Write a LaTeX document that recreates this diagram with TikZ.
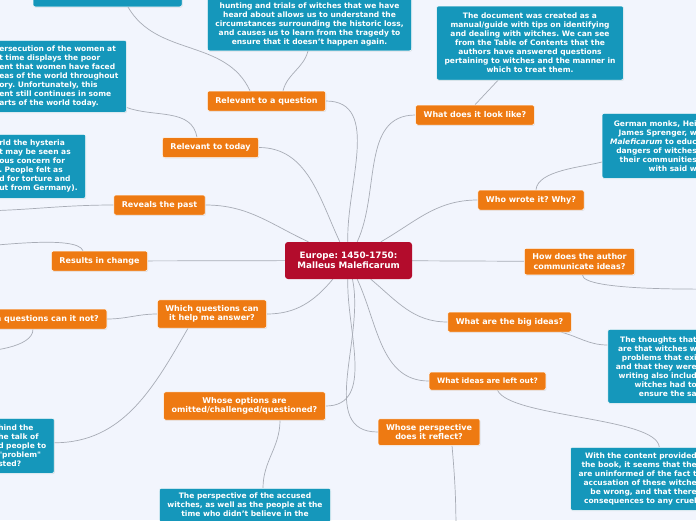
\documentclass[tikz,border=0pt]{standalone}
\usepackage{fontspec}
\setmainfont{DejaVu Sans}
\usepackage{tikz}
\usetikzlibrary{positioning,shadows}

\definecolor{paperblue}{HTML}{F2F5FD}
\definecolor{hubred}{HTML}{B30C2C}
\definecolor{topicorange}{HTML}{EE7A12}
\definecolor{noteteal}{HTML}{1597BB}
\definecolor{linkgray}{HTML}{A8ACB6}

\pgfdeclarelayer{paper}
\pgfdeclarelayer{links}
\pgfsetlayers{paper,links,main}

\begin{document}
\frenchspacing
\begin{tikzpicture}[
    x=1pt, y=1pt,
    hub/.style={fill=hubred, rounded corners=3pt, text=white, align=center,
        minimum width=127pt, minimum height=37pt,
        font=\fontsize{8.8}{10.5}\selectfont\bfseries},
    topic/.style={fill=topicorange, draw=white, line width=0.5pt, rounded corners=2pt,
        text=white, align=center, inner xsep=8pt, inner ysep=5.5pt, minimum height=20pt,
        font=\fontsize{8}{9.3}\selectfont\bfseries,
        drop shadow={shadow xshift=0.6pt, shadow yshift=-0.8pt, opacity=0.2}},
    note/.style={fill=noteteal, draw=white, line width=0.5pt, rounded corners=2pt,
        text=white, align=center, inner xsep=8pt, inner ysep=5pt,
        font=\fontsize{7.5}{9}\selectfont\bfseries,
        drop shadow={shadow xshift=0.6pt, shadow yshift=-0.8pt, opacity=0.2}},
    link/.style={draw=linkgray, line width=0.7pt}
]
\useasboundingbox (0,0) rectangle (696,-520);
\begin{pgfonlayer}{paper}
\fill[paperblue] (0,0) rectangle (696,-520);
\end{pgfonlayer}

% ---- Centre ----
\node[hub] (hub) at (348.5,-260.5) {Europe: 1450-1750:\\Malleus Maleficarum};

% ---- Topics ----
\node[topic] (rq) at (266.5,-101) {Relevant to a question};
\node[topic] (rt) at (210.5,-147.5) {Relevant to today};
\node[topic] (rp) at (159.5,-205) {Reveals the past};
\node[topic] (rc) at (99.5,-261) {Results in change};
\node[topic] (wq) at (212,-314) {Which questions can\\it help me answer?};
\node[topic, anchor=east] (wn) at (107,-319) {h questions can it not?};
\node[topic] (wo) at (244.5,-406) {Whose options are\\omitted/challenged/questioned?};
\node[topic] (wp) at (429,-432) {Whose perspective\\does it reflect?};
\node[topic, minimum height=18pt, font=\fontsize{7.4}{9}\selectfont\bfseries]
    (wi) at (487.5,-381) {What ideas are left out?};
\node[topic] (wb) at (509.5,-322) {What are the big ideas?};
\node[topic] (ha) at (579.5,-261.5) {How does the author\\communicate ideas?};
\node[topic] (ww) at (531,-200) {Who wrote it? Why?};
\node[topic] (wl) at (475,-115) {What does it look like?};

% ---- Notes ----
\node[note, anchor=south, minimum width=149pt, minimum height=30pt] (tl) at (107.5,-7) {};
\node[note, anchor=south] (tq) at (309.5,-51)
    {hunting and trials of witches that we have\\heard about allows us to understand the\\circumstances surrounding the historic loss,\\and causes us to learn from the tragedy to\\ensure that it doesn't happen again.};
\node[note, minimum height=74pt] (tr) at (530,-43)
    {The document was created as a\\manual/guide with tips on identifying\\and dealing with witches. We can see\\from the Table of Contents that the\\authors have answered questions\\pertaining to witches and the manner in\\which to treat them.};
\node[note, align=left, anchor=north west, minimum height=72pt] (tp) at (-9,-40)
    {ersecution of the women at\\t time displays the poor\\ent that women have faced\\eas of the world throughout\\ory. Unfortunately, this\\ent still continues in some\\arts of the world today.};
\node[note, align=left, anchor=north west, minimum height=64pt] (th) at (-9,-134)
    {rld the hysteria\\t may be seen as\\ous concern for\\. People felt as\\d for torture and\\ut from Germany).};
\node[note, align=left, anchor=north west, minimum height=55pt] (tbl) at (-10,-418)
    {hind the\\he talk of\\d people to\\\textquotedbl problem\textquotedbl\\sted?};
\node[note, anchor=north] (tbs) at (245,-488)
    {The perspective of the accused\\witches, as well as the people at the\\time who didn't believe in the};
\node[note, align=right, anchor=north east, minimum height=65pt] (tg) at (705,-113)
    {German monks, Hei\\James Sprenger, w\\\textit{Maleficarum} to educ\\dangers of witches\\their communities\\with said w};
\node[note, align=right, anchor=north east, minimum height=74pt] (tt) at (705,-329)
    {The thoughts that\\are that witches w\\problems that exi\\and that they were\\writing also includ\\witches had to\\ensure the sa};
\node[note, align=right, anchor=north east, minimum height=63pt] (tc) at (705,-447)
    {With the content provided\\the book, it seems that the\\are uninformed of the fact t\\accusation of these witche\\be wrong, and that there\\consequences to any cruel};

% loose ends
\coordinate (rpend) at (-30,-211);
\coordinate (rcend) at (-30,-247);
\coordinate (wnend) at (-30,-352);
\coordinate (wpend) at (456,-535);
\coordinate (haend) at (720,-289);

\begin{pgfonlayer}{links}
% Centre to topics
\draw[link] (hub) to[out=92, in=0] (rq.east);
\draw[link] (hub) to[out=115, in=0] (rt.east);
\draw[link] (hub) to[out=155, in=0] (rp.east);
\draw[link] (hub) -- (rc);
\draw[link] (hub) to[out=-130, in=0] (wq.east);
\draw[link] (hub) to[out=-92, in=0] (wo.east);
\draw[link] (hub) to[out=-78, in=180] (wp.west);
\draw[link] (hub) to[out=-65, in=180] (wi.west);
\draw[link] (hub) to[out=-40, in=180] (wb.west);
\draw[link] (hub) -- (ha);
\draw[link] (hub) to[out=30, in=180] (ww.west);
\draw[link] (hub) to[out=65, in=180] (wl.west);

% Topics to notes
\draw[link] ([xshift=-16.5pt]rq.north) to[out=115, in=-60] ([xshift=20.5pt]tl.south);
\draw[link] ([xshift=16.5pt]rq.north) to[out=75, in=-105] ([xshift=-1.5pt]tq.south);
\draw[link] ([xshift=-13.5pt]rt.north) to[out=100, in=-20] ([yshift=5pt]tp.south east);
\draw[link] (rp.west) to[out=180, in=0] (rpend);
\draw[link] ([xshift=-16.5pt]rc.north) to[out=110, in=0, looseness=0.4] (rcend);
\draw[link] (wq.west) to[out=180, in=0] (wn.east);
\draw[link] ([xshift=-74pt]wn.south east) to[out=-90, in=0, looseness=0.7] (wnend);
\draw[link] ([xshift=-24pt]wq.south) to[out=-120, in=0] ([yshift=3pt]tbl.east);
\draw[link] ([xshift=35.5pt]wo.south) to[out=-90, in=90] ([xshift=18pt]tbs.north);
\draw[link] ([xshift=23pt]wp.south) to[out=-85, in=90] (wpend);
\draw[link] ([xshift=10pt]wi.south) to[out=-65, in=95, looseness=0.45] ([xshift=89pt]tc.north west);
\draw[link] ([xshift=-10pt]wb.south east) to[out=-15, in=180] ([yshift=-16pt]tt.north west);
\draw[link] ([xshift=3pt]ha.south) to[out=-90, in=180, looseness=0.3] (haend);
\draw[link] ([xshift=5pt]ww.north) to[out=85, in=195, looseness=0.7] ([yshift=-49pt]tg.north west);
\draw[link] (wl.north) -- ([xshift=-32pt]tr.south);
\end{pgfonlayer}
\end{tikzpicture}
\end{document}
